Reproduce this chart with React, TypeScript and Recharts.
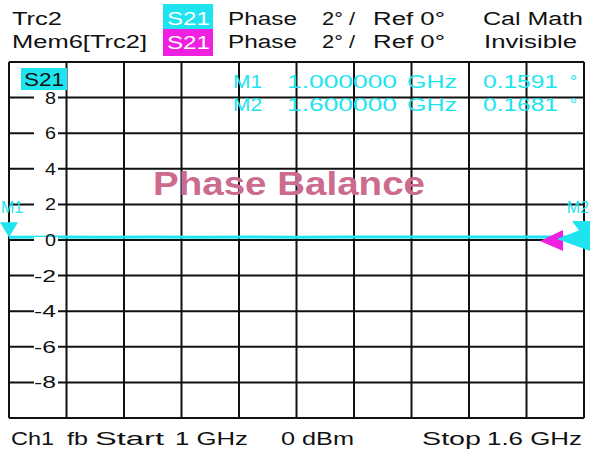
import React from 'react';
import { LineChart, Line, XAxis, YAxis, CartesianGrid, ReferenceDot } from 'recharts';

const freqGHz = [1.0, 1.05, 1.1, 1.15, 1.2, 1.25, 1.3, 1.35, 1.4, 1.45, 1.5, 1.55, 1.6];
const phaseDeg = [0.1591, 0.162, 0.158, 0.165, 0.161, 0.163, 0.16, 0.166, 0.162, 0.164, 0.167, 0.165, 0.1681];
const xTicks = [1.0, 1.06, 1.12, 1.18, 1.24, 1.3, 1.36, 1.42, 1.48, 1.54, 1.6];
const yTicks = [-10, -8, -6, -4, -2, 0, 2, 4, 6, 8, 10];
const markers = [
  { name: 'M1', freq: 1.0, value: 0.1591, freqLabel: '1.000000', valLabel: '0.1591' },
  { name: 'M2', freq: 1.6, value: 0.1681, freqLabel: '1.600000', valLabel: '0.1681' },
];

const data = freqGHz.map((f, i) => ({ freq: f, s21: phaseDeg[i] }));

const CYAN = '#1ee4ef';
const MAGENTA = '#f020e0';
const FONT = '"Liberation Sans", Arial, sans-serif';

const T = (p: { x: number; y: number; w?: number; children: string; fill?: string; size?: number; weight?: any }) => (
  <text
    x={p.x}
    y={p.y}
    fill={p.fill || '#111'}
    fontSize={p.size || 18}
    fontWeight={p.weight || 'normal'}
    fontFamily={FONT}
    textLength={p.w}
    lengthAdjust={p.w ? 'spacingAndGlyphs' : undefined}
  >
    {p.children}
  </text>
);

const renderYTick = (props: any) => {
  const v = props.payload?.value;
  const y = props.y;
  if (v === 10 || v === -10) return <g key={`t${v}`} />;
  const label = String(v);
  return (
    <g key={`t${v}`}>
      <rect x={34} y={y - 3} width={24} height={6} fill="#fff" />
      <text x={56} y={y + 6} textAnchor="end" fontSize={17} fontFamily={FONT} fill="#111"
        textLength={label.length * 11} lengthAdjust="spacingAndGlyphs">
        {label}
      </text>
    </g>
  );
};

const M1Shape = (props: any) => {
  const { cx, cy } = props;
  return (
    <g>
      <polygon points={`${cx - 9},${cy - 15} ${cx + 9},${cy - 15} ${cx},${cy}`} fill={CYAN} />
      <text x={cx - 8} y={cy - 24} fontSize={16} fontFamily={FONT} fill={CYAN}>M1</text>
    </g>
  );
};

const M2Shape = (props: any) => {
  const { cx, cy } = props;
  return (
    <g>
      <polygon points={`${cx - 12},${cy - 16} ${cx + 12},${cy - 16} ${cx},${cy}`} fill={CYAN} />
      <polygon points={`${cx - 27},${cy + 2} ${cx + 6},${cy - 11} ${cx + 6},${cy + 14}`} fill={CYAN} />
      <text x={cx + 5} y={cy - 24} textAnchor="end" fontSize={16} fontFamily={FONT} fill={CYAN}>M2</text>
    </g>
  );
};

const MemShape = (props: any) => {
  const { cx, cy } = props;
  return <polygon points={`${cx - 44},${cy + 1} ${cx - 21},${cy - 10} ${cx - 21},${cy + 11}`} fill={MAGENTA} />;
};

export default function App() {
  return (
    <div style={{ position: 'absolute', left: 0, top: 0, width: 590, height: 451, background: '#fff' }}>
      <LineChart width={590} height={451} data={data} margin={{ top: 62, left: 8, right: 6, bottom: 33 }}>
        <CartesianGrid stroke="#111" strokeWidth={2} />
        <XAxis dataKey="freq" type="number" domain={[1.0, 1.6]} ticks={xTicks} hide />
        <YAxis type="number" domain={[-10, 10]} ticks={yTicks} width={1} axisLine={false} tickLine={false} tick={renderYTick} interval={0} />
        <Line dataKey="s21" stroke={CYAN} strokeWidth={3} dot={false} isAnimationActive={false} />
        <ReferenceDot x={1.6} y={0} r={0} ifOverflow="visible" shape={<MemShape />} />
        <ReferenceDot x={markers[0].freq} y={markers[0].value} ifOverflow="visible" shape={<M1Shape />} />
        <ReferenceDot x={markers[1].freq} y={markers[1].value} ifOverflow="visible" shape={<M2Shape />} />
      </LineChart>
      <svg width={590} height={451} style={{ position: 'absolute', left: 0, top: 0, pointerEvents: 'none' }}>
        <T x={12} y={25} w={50}>Trc2</T>
        <rect x={163} y={4} width={50} height={25} fill={CYAN} />
        <T x={167} y={25} w={43} fill="#fff">S21</T>
        <T x={228} y={25} w={69}>Phase</T>
        <T x={322} y={25} w={33}>2° /</T>
        <T x={373} y={25} w={72}>Ref 0°</T>
        <T x={483} y={25} w={100}>Cal Math</T>

        <T x={12} y={48} w={135}>Mem6[Trc2]</T>
        <rect x={163} y={29} width={50} height={27} fill={MAGENTA} />
        <T x={167} y={49} w={43} fill="#fff">S21</T>
        <T x={228} y={48} w={69}>Phase</T>
        <T x={322} y={48} w={33}>2° /</T>
        <T x={373} y={48} w={72}>Ref 0°</T>
        <T x={484} y={48} w={93}>Invisible</T>

        <rect x={21} y={68} width={46} height={22} fill={CYAN} />
        <T x={24} y={86} w={40}>S21</T>

        {markers.map((m, i) => (
          <g key={m.name}>
            <T x={233} y={88 + i * 23} w={29} fill={CYAN}>{m.name}</T>
            <T x={287} y={88 + i * 23} w={110} fill={CYAN}>{m.freqLabel}</T>
            <T x={407} y={88 + i * 23} w={50} fill={CYAN}>GHz</T>
            <T x={483} y={88 + i * 23} w={75} fill={CYAN}>{m.valLabel}</T>
            <T x={570} y={88 + i * 23} fill={CYAN}>°</T>
          </g>
        ))}

        <T x={153} y={195} w={272} size={34} weight="bold" fill="#cc6b8e">Phase Balance</T>

        <T x={11} y={445} w={43}>Ch1</T>
        <T x={67} y={445} w={21}>fb</T>
        <T x={95} y={445} w={69}>Start</T>
        <T x={175} y={445} w={73}>1 GHz</T>
        <T x={281} y={445} w={73}>0 dBm</T>
        <T x={422} y={445} w={59}>Stop</T>
        <T x={487} y={445} w={95}>1.6 GHz</T>
      </svg>
    </div>
  );
}
